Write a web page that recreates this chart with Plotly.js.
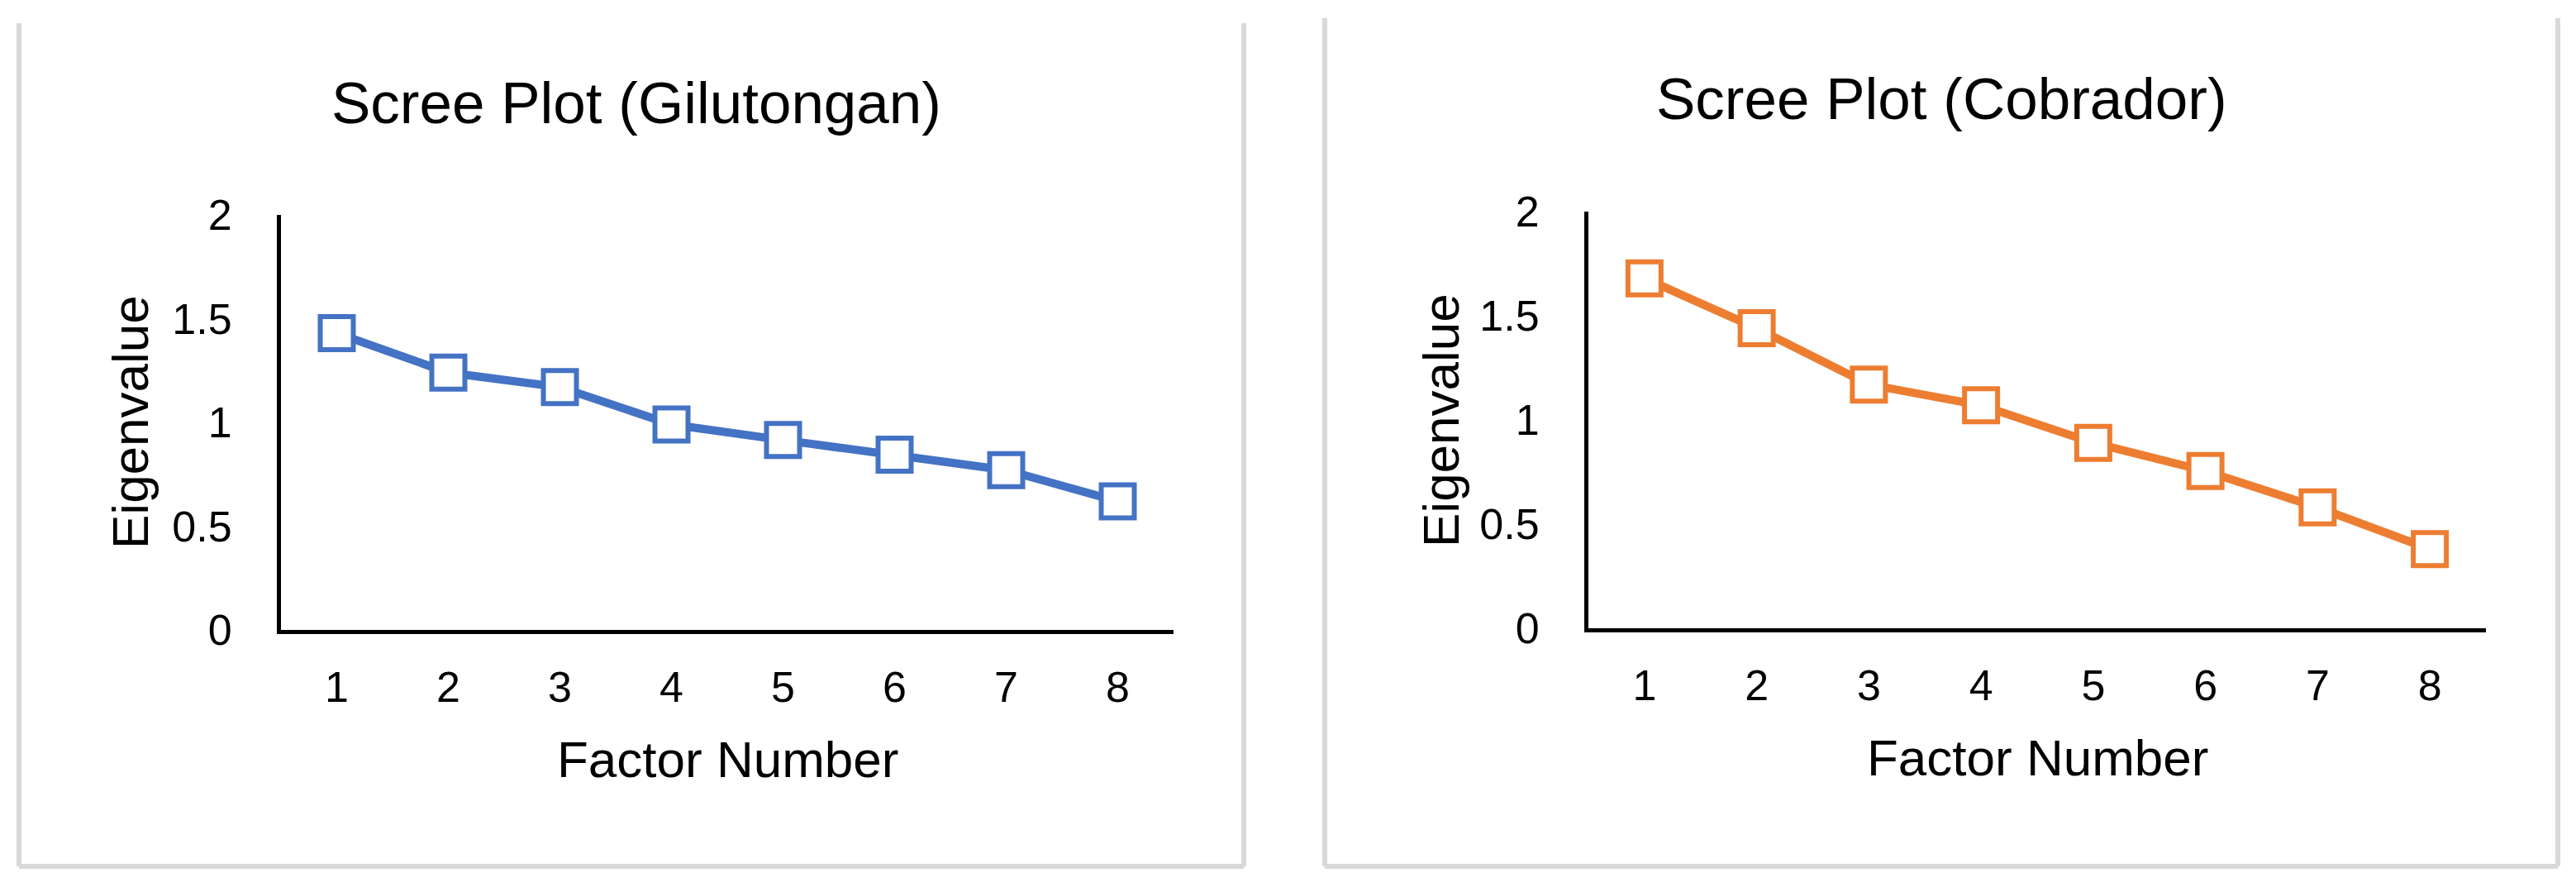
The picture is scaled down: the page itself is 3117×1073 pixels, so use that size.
<!DOCTYPE html>
<html>
<head>
<meta charset="utf-8">
<script src="https://cdn.plot.ly/plotly-3.0.1.min.js"></script>
<style>
  html, body { margin: 0; padding: 0; background: #ffffff; }
  #chart { width: 3117px; height: 1073px; }
</style>
</head>
<body>
<div id="chart"></div>
<script>
// ---- data ----
const factorNumbers = [1, 2, 3, 4, 5, 6, 7, 8];
const factorTickLabels = ["1", "2", "3", "4", "5", "6", "7", "8"];
const eigenTickValues = [0, 0.5, 1, 1.5, 2];
const eigenTickLabels = ["0", "0.5", "1", "1.5", "2"];
const gilutonganEigen = [1.43, 1.24, 1.17, 0.99, 0.915, 0.845, 0.77, 0.62];
const cobradorEigen = [1.68, 1.44, 1.17, 1.07, 0.89, 0.755, 0.58, 0.38];
const panelTitles = ["Scree Plot (Gilutongan)", "Scree Plot (Cobrador)"];
const xTitle = "Factor Number";
const yTitle = "Eigenvalue";

// ---- styling ----
const W = 3117, H = 1073;
const FONT = "Liberation Sans, Arial, sans-serif";
const px = v => v / W;
const py = v => 1 - v / H;

const blue = "#4472C4";
const orange = "#ED7D31";

function series(y, color, xa, ya) {
  return {
    type: "scatter", mode: "lines+markers",
    x: factorNumbers, y: y, xaxis: xa, yaxis: ya,
    line: { color: color, width: 10 },
    marker: { symbol: "square", size: 40, color: "#ffffff", line: { color: color, width: 6 } },
    showlegend: false, hoverinfo: "skip", cliponaxis: false
  };
}

function xAxis(d0, d1, anchor) {
  return {
    domain: [px(d0), px(d1)], anchor: anchor,
    range: [0.5, 8.5], tickmode: "array", tickvals: factorNumbers, ticktext: factorTickLabels,
    showgrid: false, zeroline: false, showline: true, linecolor: "#000", linewidth: 5,
    ticks: "", ticklabelstandoff: 20,
    tickfont: { family: FONT, size: 52, color: "#000" }, fixedrange: true
  };
}
function yAxis(top, bottom, anchor) {
  return {
    domain: [py(bottom), py(top)], anchor: anchor,
    range: [0, 2], tickmode: "array", tickvals: eigenTickValues, ticktext: eigenTickLabels,
    showgrid: false, zeroline: false, showline: true, linecolor: "#000", linewidth: 5,
    ticks: "", ticklabelstandoff: 44,
    tickfont: { family: FONT, size: 52, color: "#000" }, fixedrange: true
  };
}

const data = [
  series(gilutonganEigen, blue, "x", "y"),
  series(cobradorEigen, orange, "x2", "y2")
];

const border = "#d9d9d9";
function panelLines(x0, x1, yTop, yBot) {
  const base = { type: "line", xref: "paper", yref: "paper", line: { color: border, width: 6 } };
  return [
    Object.assign({}, base, { x0: px(x0), x1: px(x0), y0: py(yTop), y1: py(yBot) }),
    Object.assign({}, base, { x0: px(x1), x1: px(x1), y0: py(yTop), y1: py(yBot) }),
    Object.assign({}, base, { x0: px(x0), x1: px(x1), y0: py(yBot), y1: py(yBot) })
  ];
}

function ann(text, x, y, size, angle) {
  return {
    text: text, xref: "paper", yref: "paper", x: px(x), y: py(y),
    xanchor: "center", yanchor: "middle", showarrow: false, textangle: angle || 0,
    font: { family: FONT, size: size, color: "#000" }
  };
}

const layout = {
  width: W, height: H,
  margin: { l: 0, r: 0, t: 0, b: 0 },
  paper_bgcolor: "#ffffff", plot_bgcolor: "rgba(0,0,0,0)",
  showlegend: false,
  xaxis: xAxis(340, 1420, "y"),
  yaxis: yAxis(260, 762, "x"),
  xaxis2: xAxis(1922, 3008, "y2"),
  yaxis2: yAxis(256, 760, "x2"),
  shapes: [].concat(panelLines(23, 1505, 28, 1048), panelLines(1603, 3095, 22, 1048)),
  annotations: [
    ann(panelTitles[0], 770, 124, 71),
    ann(panelTitles[1], 2349, 120, 71),
    ann(xTitle, 880, 918, 62),
    ann(xTitle, 2465, 916, 62),
    ann(yTitle, 157, 511, 62, -90),
    ann(yTitle, 1743, 508, 62, -90)
  ]
};

Plotly.newPlot("chart", data, layout, { staticPlot: true, displayModeBar: false });
</script>
</body>
</html>
